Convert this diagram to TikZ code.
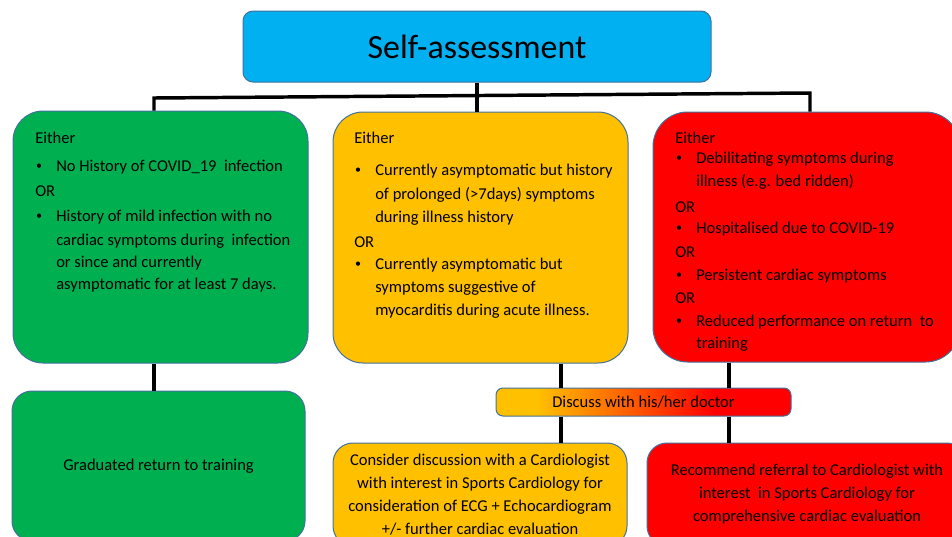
\documentclass[tikz,border=0pt]{standalone}
\usepackage{fontspec}
\setmainfont{Carlito}
\definecolor{cgreen}{RGB}{0,176,80}
\definecolor{cyel}{RGB}{255,192,0}
\definecolor{cred}{RGB}{255,0,0}
\definecolor{cblue}{RGB}{0,176,240}
\definecolor{cedge}{RGB}{65,113,156}
\pgfdeclarehorizontalshading{discshade}{100bp}{color(0bp)=(cyel); color(32bp)=(cyel); color(62bp)=(cred); color(100bp)=(cred)}
\newcommand\Bu{\makebox[15.75pt][l]{\hspace*{0.6pt}\raisebox{0.8pt}{\fontsize{9pt}{9pt}\selectfont •}}}
\newcommand\Co{\hspace*{15.75pt}}
\begin{document}
\begin{tikzpicture}[x=0.75pt,y=-0.75pt,
  box/.style={draw=cedge,line width=0.75pt,inner sep=0pt,rectangle},
  conn/.style={line width=2.6pt,black},
  body/.style={font=\fontsize{12.4pt}{15pt}\selectfont,inner sep=0pt,anchor=base west},
  ctext/.style={font=\fontsize{12.4pt}{17.25pt}\selectfont,align=center},
]
\useasboundingbox (0,0) rectangle (952,536);
\clip (0,0) rectangle (952,536);

% boxes
\node[box,fill=cblue,rounded corners=7.5pt,minimum width=351pt,minimum height=53.25pt,
      font=\fontsize{25.4pt}{30pt}\selectfont] (title) at (477,46.5) {Self-assessment};
\node[box,fill=cgreen,rounded corners=22.5pt,minimum width=221.25pt,minimum height=189pt] (g1) at (160.5,237) {};
\node[box,fill=cyel,rounded corners=22.5pt,minimum width=221.25pt,minimum height=188.25pt] (y1) at (480.5,237.5) {};
\node[box,fill=cred,rounded corners=26pt,minimum width=230.25pt,minimum height=187.5pt] (r1) at (806.5,237) {};
\node[box,fill=cgreen,rounded corners=15pt,minimum width=219.75pt,minimum height=112.5pt,ctext] (g2) at (158.5,466) {Graduated return to training};
\node[box,shade,shading=discshade,rounded corners=5.25pt,minimum width=221.25pt,minimum height=21pt,ctext] (disc) at (643.5,402) {Discuss with his/her doctor};
\node[box,fill=cyel,rounded corners=15pt,minimum width=220.5pt,minimum height=77.25pt,ctext] (cons) at (480,494.5)
  {Consider discussion with a Cardiologist\\with interest in Sports Cardiology for\\consideration of ECG + Echocardiogram\\+/- further cardiac evaluation};
\node[box,fill=cred,rounded corners=15pt,minimum width=240pt,minimum height=77.25pt,ctext] (rec) at (807,494.5)
  {Recommend referral to Cardiologist with\\interest\ \ in Sports Cardiology for\\comprehensive cardiac evaluation};

% list texts
\node[body] (g1t) at (35,143) {\begin{tabular}[t]{@{}l@{}}
Either\\[6pt]
\Bu No History of COVID\_19\ \ infection\\[3.75pt]
OR\\[3.75pt]
\Bu History of mild infection with no\\[3pt]
\Co cardiac symptoms during\ \ infection\\[1.5pt]
\Co or since and currently\\[1.5pt]
\Co asymptomatic for at least 7 days.
\end{tabular}};
\node[body] (y1t) at (354,143) {\begin{tabular}[t]{@{}l@{}}
Either\\[9pt]
\Bu Currently asymptomatic but history\\[3pt]
\Co of prolonged (>7days) symptoms\\[2.25pt]
\Co during illness history\\[3.75pt]
OR\\[1.5pt]
\Bu Currently asymptomatic but\\[2.25pt]
\Co symptoms suggestive of\\[2.25pt]
\Co myocarditis during acute illness.
\end{tabular}};
\node[body] (r1t) at (675,143) {\begin{tabular}[t]{@{}l@{}}
Either\\
\Bu Debilitating symptoms during\\[2.25pt]
\Co illness (e.g. bed ridden)\\[4.5pt]
OR\\[0.75pt]
\Bu Hospitalised due to COVID-19\\[3pt]
OR\\[2.25pt]
\Bu Persistent cardiac symptoms\\[2.25pt]
OR\\[2.25pt]
\Bu Reduced performance on return\ \ to\\[1.5pt]
\Co training
\end{tabular}};

% connectors
\coordinate (busL) at (154,98);
\coordinate (busR) at (810,93);
\coordinate (ystem) at (561,0);
\coordinate (rstem) at (729,0);
\draw[conn] (busL |- g1.north) -- (busL) -- (busR) -- (busR |- r1.north);
\draw[conn] (title.south) -- (title.south |- y1.north);
\draw[conn] (busL |- g1.south) -- (busL |- g2.north);
\draw[conn] (ystem |- y1.south) -- (ystem |- disc.north);
\draw[conn] (ystem |- disc.south) -- (ystem |- cons.north);
\draw[conn] (rstem |- r1.south) -- (rstem |- disc.north);
\draw[conn] (rstem |- disc.south) -- (rstem |- rec.north);
\end{tikzpicture}
\end{document}
